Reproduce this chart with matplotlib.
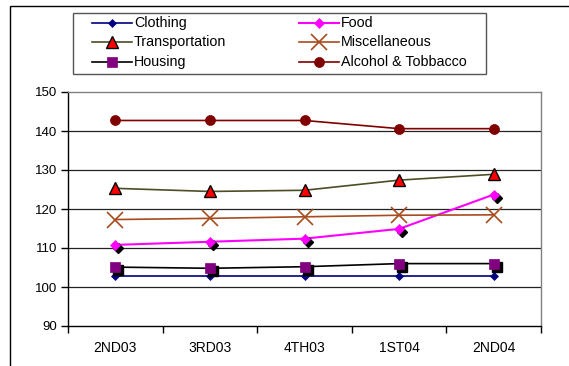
import matplotlib
matplotlib.use("Agg")
import matplotlib.pyplot as plt
import matplotlib.transforms as mtransforms
from matplotlib.patches import Rectangle
from matplotlib.lines import Line2D

plt.rcParams['font.family'] = ['Liberation Sans', 'DejaVu Sans']

quarters = ["2ND03", "3RD03", "4TH03", "1ST04", "2ND04"]
clothing = [102.8, 102.8, 102.8, 102.8, 102.8]
food = [110.8, 111.6, 112.4, 114.9, 123.7]
transportation = [125.3, 124.5, 124.8, 127.4, 128.9]
miscellaneous = [117.3, 117.6, 118.0, 118.4, 118.5]
housing = [105.1, 104.8, 105.2, 106.0, 106.0]
alcohol = [142.7, 142.7, 142.7, 140.6, 140.6]
y_ticks = [90, 100, 110, 120, 130, 140, 150]

W, H, DPI = 569, 366, 100
fig = plt.figure(figsize=(W / DPI, H / DPI), dpi=DPI)
fig.patch.set_facecolor("white")

# plot area in pixel coordinates
L, R, T, B = 68, 541, 92, 326
ax = fig.add_axes([L / W, (H - B) / H, (R - L) / W, (B - T) / H])

x = list(range(len(quarters)))

series = [
    dict(label="Clothing", y=clothing, color="#000080", marker="D", ms=4.4,
         mfc="#000080", mec="#000080", lw=1.2, shadow=False),
    dict(label="Food", y=food, color="#FF00FF", marker="D", ms=5.4,
         mfc="#FF00FF", mec="#FF00FF", lw=1.5, shadow=True),
    dict(label="Transportation", y=transportation, color="#4D4D26", marker="^", ms=9.0,
         mfc="#FF0000", mec="#000000", lw=1.2, shadow=False),
    dict(label="Miscellaneous", y=miscellaneous, color="#A84B1E", marker="x", ms=11.0,
         mfc="#A84B1E", mec="#A84B1E", lw=1.2, shadow=False),
    dict(label="Housing", y=housing, color="#000000", marker="s", ms=7.0,
         mfc="#800080", mec="#800080", lw=1.2, shadow=True),
    dict(label="Alcohol & Tobbacco", y=alcohol, color="#800000", marker="o", ms=7.2,
         mfc="#800000", mec="#800000", lw=1.2, shadow=False),
]

shadow_tr = ax.transData + mtransforms.ScaledTranslation(3 / DPI, -3 / DPI, fig.dpi_scale_trans)

for i, s in enumerate(series):
    z = 3 + i * 2
    ax.plot(x, s["y"], color=s["color"], lw=s["lw"], zorder=z)
    if s["shadow"]:
        ax.plot(x, s["y"], linestyle="none", marker=s["marker"], ms=s["ms"],
                mfc="#000000", mec="#000000", transform=shadow_tr, zorder=z + 0.5)
    mew = 1.2 if s["marker"] == "x" else (1.0 if s["marker"] == "^" else 0.5)
    ax.plot(x, s["y"], linestyle="none", marker=s["marker"], ms=s["ms"],
            mfc=s["mfc"], mec=s["mec"], mew=mew, zorder=z + 1)

ax.set_xlim(-0.5, len(quarters) - 0.5)
ax.set_ylim(90, 150)
ax.set_yticks(y_ticks)
ax.set_yticklabels([str(v) for v in y_ticks], fontsize=9.5)
ax.set_xticks(x)
ax.set_xticklabels(quarters, fontsize=10)
ax.set_xticks([i - 0.5 for i in range(len(quarters) + 1)], minor=True)
ax.tick_params(axis="x", which="major", length=0, pad=11)
ax.tick_params(axis="x", which="minor", length=5, width=1, direction="out")
ax.tick_params(axis="y", length=5, width=1, direction="out", pad=3)

for v in y_ticks[1:-1]:
    ax.axhline(v, color="#222222", lw=0.9, zorder=1)

ax.spines["left"].set_color("#000000")
ax.spines["bottom"].set_color("#000000")
ax.spines["top"].set_color("#808080")
ax.spines["right"].set_color("#808080")
for sp in ax.spines.values():
    sp.set_linewidth(1.0)

# overlay in pixel units for the chart frame and the legend
ov = fig.add_axes([0, 0, 1, 1], zorder=10)
ov.set_xlim(0, W)
ov.set_ylim(H, 0)
ov.axis("off")
ov.patch.set_alpha(0)

ov.add_patch(Rectangle((10.5, 5.5), 700, 500, fill=False, edgecolor="#000000", lw=1.0))
ov.add_patch(Rectangle((73.5, 12.5), 413, 61.5, fill=False, edgecolor="#555555",
                       lw=1.0, facecolor="white"))

col_x = [92, 299]
row_y = [22.5, 41.8, 61.5]
for i, s in enumerate(series):
    cx = col_x[i % 2]
    ry = row_y[i // 2]
    ov.add_line(Line2D([cx, cx + 40], [ry, ry], color=s["color"], lw=s["lw"]))
    mew = 1.2 if s["marker"] == "x" else (1.0 if s["marker"] == "^" else 0.5)
    ov.add_line(Line2D([cx + 20], [ry], linestyle="none", marker=s["marker"], ms=s["ms"],
                       mfc=s["mfc"], mec=s["mec"], mew=mew))
    ov.text(cx + 42, ry + 4.3, s["label"], fontsize=10.3, va="baseline", ha="left",
            color="#000000")

fig.savefig("out.png", dpi=DPI)
